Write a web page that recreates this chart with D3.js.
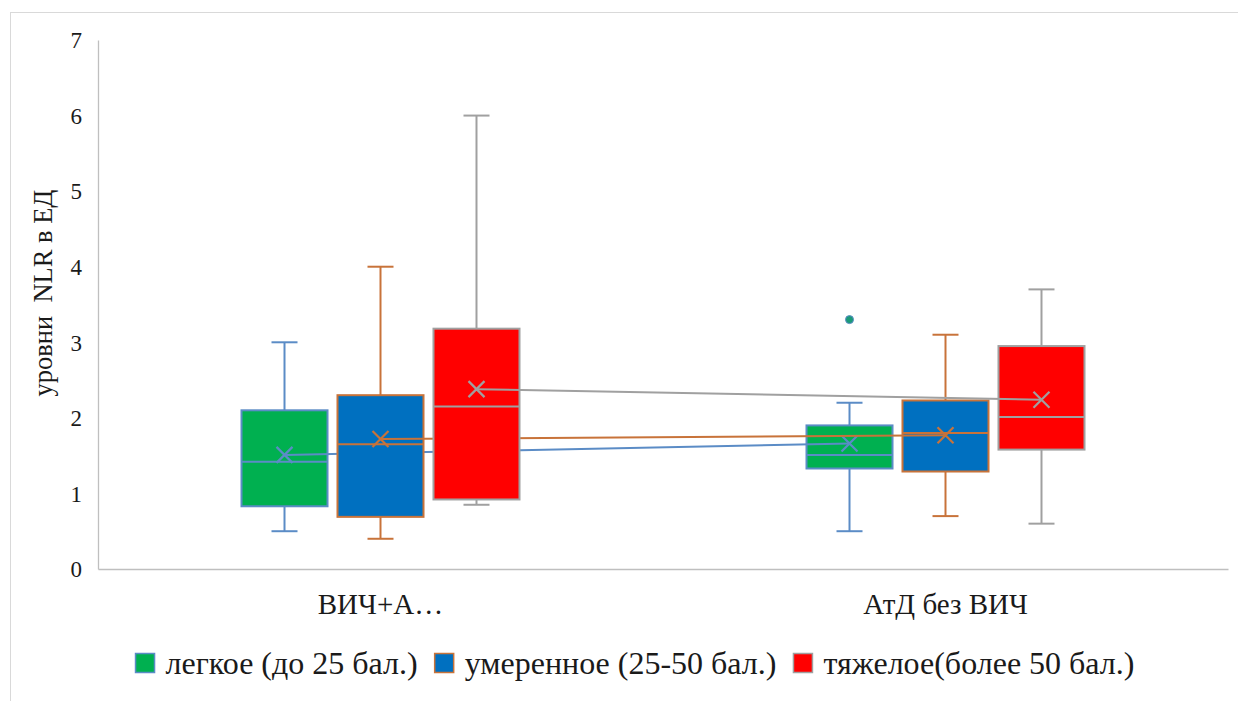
<!DOCTYPE html>
<html>
<head>
<meta charset="utf-8">
<script src="https://cdn.jsdelivr.net/npm/d3@7"></script>
<style>
  html, body { margin: 0; padding: 0; background: #fff; }
  svg text { font-family: "Liberation Serif", "Times New Roman", Times, "DejaVu Serif", serif; }
</style>
</head>
<body>
<svg id="chart" width="1238" height="701"></svg>
<script>
// Groups on the x axis
const categories = ["ВИЧ+А…", "АтД без ВИЧ"];

// Severity series
const seriesNames = ["легкое (до 25 бал.)", "умеренное (25-50 бал.)", "тяжелое(более 50 бал.)"];
const seriesFill = ["#00b050", "#0070c0", "#ff0000"];
const seriesLine = ["#5b8cc6", "#c8733a", "#a0a0a0"];

// Box statistics per series, one value per category
const whiskerLow  = [[0.50, 0.50], [0.40, 0.70], [0.85, 0.60]];
const quartile1   = [[0.83, 1.33], [0.69, 1.29], [0.92, 1.58]];
const medians     = [[1.42, 1.51], [1.65, 1.80], [2.15, 2.01]];
const quartile3   = [[2.10, 1.90], [2.30, 2.23], [3.18, 2.95]];
const whiskerHigh = [[3.00, 2.20], [4.00, 3.10], [6.00, 3.70]];
const means       = [[1.51, 1.66], [1.72, 1.77], [2.38, 2.24]];
const outliers    = [[[], [3.30]], [[], []], [[], []]];

const yTicks = [0, 1, 2, 3, 4, 5, 6, 7];
const yTitle = "уровни  NLR в ЕД";

const svg = d3.select("#chart");

// outer chart frame
svg.append("rect")
  .attr("x", 10.5).attr("y", 12.5)
  .attr("width", 1300).attr("height", 800)
  .attr("fill", "none").attr("stroke", "#d9d9d9").attr("stroke-width", 1);

const plot = { left: 98, right: 1228, top: 40, bottom: 569 };

const x = d3.scaleBand().domain(categories).range([plot.left, plot.right]);
const y = d3.scaleLinear().domain([0, 7]).range([plot.bottom, plot.top]);
const sub = d3.scaleBand().domain(d3.range(seriesNames.length)).range([-139, 139]).paddingInner(0.104);

// axes
const yAxis = svg.append("g").attr("transform", `translate(${plot.left},0)`)
  .call(d3.axisLeft(y).tickValues(yTicks).tickSize(0).tickPadding(0).tickFormat(d3.format("d")));
yAxis.attr("font-family", null);
yAxis.select(".domain").attr("stroke", "#bfbfbf").attr("stroke-width", 1.3);
yAxis.selectAll("text")
  .attr("x", -16).attr("dy", "0.34em")
  .attr("font-size", 23).attr("fill", "#1a1a1a");

const xAxis = svg.append("g").attr("transform", `translate(0,${plot.bottom})`)
  .call(d3.axisBottom(x).tickSize(0).tickPadding(0));
xAxis.attr("font-family", null);
xAxis.select(".domain").attr("stroke", "#bfbfbf").attr("stroke-width", 1.3);
xAxis.selectAll("text")
  .attr("y", 45).attr("dy", 0)
  .attr("font-size", 29).attr("fill", "#1a1a1a");

// y axis title
svg.append("text")
  .attr("transform", `translate(52,293) rotate(-90)`)
  .attr("text-anchor", "middle")
  .attr("font-size", 26.5)
  .attr("fill", "#1a1a1a")
  .style("white-space", "pre")
  .text(yTitle);

const capHalf = 13;
const markHalf = 8;

seriesNames.forEach((name, s) => {
  const g = svg.append("g");
  const col = seriesLine[s];
  const cx = c => x(c) + x.bandwidth() / 2 + sub(s) + sub.bandwidth() / 2;

  categories.forEach((c, i) => {
    const xc = cx(c);
    const x0 = x(c) + x.bandwidth() / 2 + sub(s);
    const w = sub.bandwidth();
    // whiskers
    g.append("line").attr("x1", xc).attr("x2", xc)
      .attr("y1", y(whiskerHigh[s][i])).attr("y2", y(quartile3[s][i]))
      .attr("stroke", col).attr("stroke-width", 2);
    g.append("line").attr("x1", xc).attr("x2", xc)
      .attr("y1", y(quartile1[s][i])).attr("y2", y(whiskerLow[s][i]))
      .attr("stroke", col).attr("stroke-width", 2);
    [whiskerHigh[s][i], whiskerLow[s][i]].forEach(v => {
      g.append("line").attr("x1", xc - capHalf).attr("x2", xc + capHalf)
        .attr("y1", y(v)).attr("y2", y(v))
        .attr("stroke", col).attr("stroke-width", 2);
    });
    // box
    g.append("rect")
      .attr("x", x0).attr("width", w)
      .attr("y", y(quartile3[s][i]))
      .attr("height", y(quartile1[s][i]) - y(quartile3[s][i]))
      .attr("fill", seriesFill[s]).attr("stroke", col).attr("stroke-width", 2);
    // median
    g.append("line").attr("x1", x0).attr("x2", x0 + w)
      .attr("y1", y(medians[s][i])).attr("y2", y(medians[s][i]))
      .attr("stroke", col).attr("stroke-width", 2);
    // outliers
    outliers[s][i].forEach(v => {
      g.append("circle").attr("cx", xc).attr("cy", y(v)).attr("r", 4)
        .attr("fill", "#1a9a78").attr("stroke", col).attr("stroke-width", 1);
    });
  });

  // line joining the means
  g.append("path")
    .attr("d", d3.line()(categories.map((c, i) => [cx(c), y(means[s][i])])))
    .attr("fill", "none").attr("stroke", col).attr("stroke-width", 2);

  // mean markers
  categories.forEach((c, i) => {
    const xc = cx(c), yc = y(means[s][i]);
    g.append("path")
      .attr("d", `M${xc - markHalf},${yc - markHalf}L${xc + markHalf},${yc + markHalf}M${xc - markHalf},${yc + markHalf}L${xc + markHalf},${yc - markHalf}`)
      .attr("stroke", col).attr("stroke-width", 2.2).attr("fill", "none");
  });
});

// legend
const legend = svg.append("g");
const legendY = 663;
const sq = 19;
const textGap = 11;
const itemGap = 17;
let cursor = 0;
seriesNames.forEach((name, s) => {
  const it = legend.append("g");
  it.append("rect").attr("x", 0).attr("y", -sq / 2).attr("width", sq).attr("height", sq)
    .attr("fill", seriesFill[s]).attr("stroke", seriesLine[s]).attr("stroke-width", 1.5);
  const t = it.append("text").attr("x", sq + textGap).attr("y", 11)
    .attr("font-size", 32).attr("fill", "#1a1a1a").text(name);
  const wTotal = sq + textGap + t.node().getComputedTextLength();
  it.attr("transform", `translate(${cursor},${legendY})`);
  cursor += wTotal + itemGap;
});
const legendWidth = cursor - itemGap;
legend.attr("transform", `translate(${635 - legendWidth / 2},0)`);
</script>
</body>
</html>
